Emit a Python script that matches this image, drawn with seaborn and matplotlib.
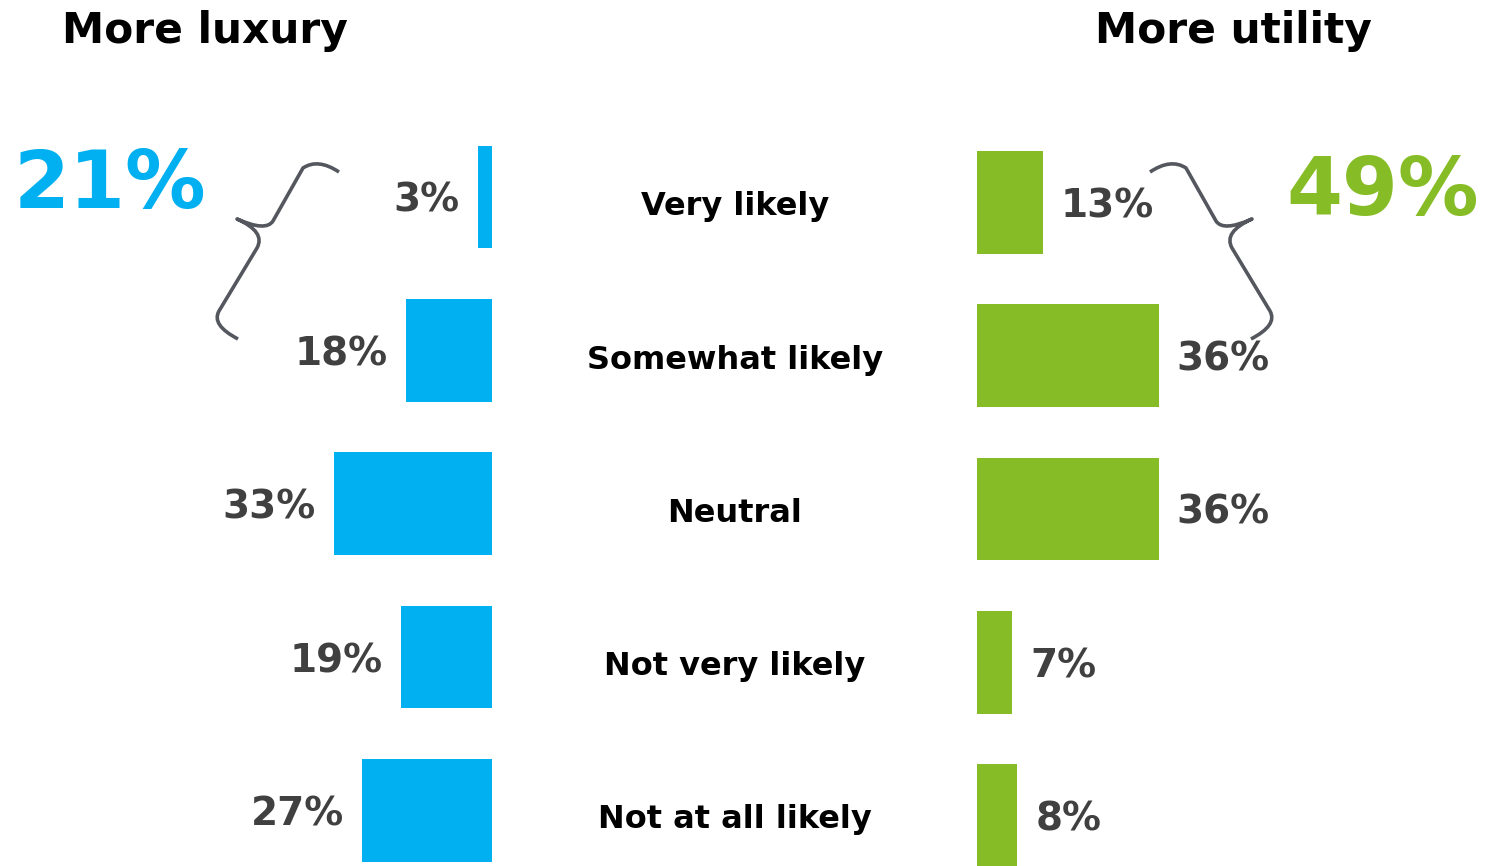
import matplotlib
matplotlib.use("Agg")
import matplotlib.pyplot as plt
from matplotlib.path import Path
from matplotlib.patches import PathPatch
from matplotlib.transforms import Affine2D, blended_transform_factory
import seaborn as sns
import pandas as pd

# Survey answers and shares (%)
categories = ["Very likely", "Somewhat likely", "Neutral", "Not very likely", "Not at all likely"]
luxury = [3, 18, 33, 19, 27]
utility = [13, 36, 36, 7, 8]
luxury_total = "21%"
utility_total = "49%"
headers = ["More luxury", "More utility"]

BLUE = "#00B0F0"
GREEN = "#86BC25"
LABEL_GREY = "#404040"
BRACE_GREY = "#54585E"

sns.set_style("white")
plt.rcParams["font.family"] = ["DejaVu Sans"]

W, H = 1489, 866
fig = plt.figure(figsize=(W / 100, H / 100), dpi=100)

df = pd.DataFrame({"category": categories, "luxury": luxury, "utility": utility})


def px_axes(x0, x1, y_top):
    """Axes spanning pixel columns x0..x1 and rows y_top..bottom of figure."""
    return fig.add_axes([x0 / W, 0, (x1 - x0) / W, (H - y_top) / H])


def value_labels(ax, values):
    anns = ax.bar_label(ax.containers[0], labels=[f"{v}%" for v in values],
                        padding=13, fontsize=28, fontweight="bold", color=LABEL_GREY)
    for t in anns:
        t.set_va("center_baseline")


# Left panel: bars grow leftwards from a shared baseline
axL = px_axes(100, 492, 120.3)
sns.barplot(data=df, x="luxury", y="category", orient="h", color=BLUE,
            saturation=1, width=0.67, errorbar=None, linewidth=0, ax=axL)
axL.set_xlim(392 / 4.8, 0)
axL.set_ylim(4.362, -0.5)
axL.set_axis_off()
value_labels(axL, luxury)

# Right panel: bars grow rightwards
axR = px_axes(977, W, 125.9)
sns.barplot(data=df, x="utility", y="category", orient="h", color=GREEN,
            saturation=1, width=0.67, errorbar=None, linewidth=0, ax=axR)
axR.set_xlim(0, 512 / 5.05)
axR.set_ylim(4.33, -0.5)
axR.set_axis_off()
value_labels(axR, utility)

# Category names in the middle column
mid = blended_transform_factory(fig.transFigure, axR.transData)
for i, name in enumerate(categories):
    axR.text(735 / W, i + 0.005, name, transform=mid,
             ha="center", va="center_baseline", fontsize=23, fontweight="bold",
             color="black", clip_on=False)

# Panel headers
fig.text(205 / W, 1 - 43 / H, headers[0], ha="center", va="baseline",
         fontsize=30.5, fontweight="bold", color="black")
fig.text(1233 / W, 1 - 43 / H, headers[1], ha="center", va="baseline",
         fontsize=30.5, fontweight="bold", color="black")

# Top-two-box totals
fig.text(110 / W, 1 - 208 / H, luxury_total, ha="center", va="baseline",
         fontsize=58, fontweight="bold", color=BLUE)
fig.text(1382.5 / W, 1 - 215 / H, utility_total, ha="center", va="baseline",
         fontsize=58, fontweight="bold", color=GREEN)

# Slanted curly braces grouping the two top answers (pixel space, y down)
px = Affine2D().scale(1 / W, -1 / H).translate(0, 1) + fig.transFigure

brace_verts = [
    (339, 172), (318, 158), (303, 168),
    (273, 221),
    (266, 232), (237, 219),
    (266, 232), (257, 248),
    (219, 311),
    (211, 325), (238, 339),
]
brace_codes = [
    Path.MOVETO, Path.CURVE3, Path.CURVE3,
    Path.LINETO,
    Path.CURVE3, Path.CURVE3,
    Path.CURVE3, Path.CURVE3,
    Path.LINETO,
    Path.CURVE3, Path.CURVE3,
]
for mirror in (False, True):
    verts = [((W - x) if mirror else x, y) for x, y in brace_verts]
    fig.add_artist(PathPatch(Path(verts, brace_codes), transform=px,
                             facecolor="none", edgecolor=BRACE_GREY,
                             linewidth=2.6, capstyle="butt", joinstyle="round"))

fig.savefig("out.png", dpi=100)
